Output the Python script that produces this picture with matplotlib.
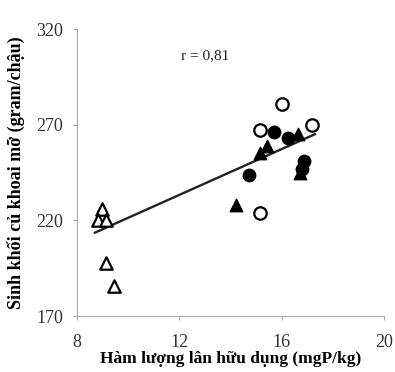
import numpy as np
import matplotlib
matplotlib.use("Agg")
import matplotlib.pyplot as plt

plt.rcParams['font.family'] = ['Liberation Serif', 'DejaVu Serif']

# open triangles
tri_open_x = [8.96, 8.83, 9.13, 9.13, 9.45]
tri_open_y = [226, 220, 220, 198, 186]
# filled triangles
tri_fill_x = [14.2, 15.15, 15.43, 16.64, 16.73]
tri_fill_y = [228, 255, 259, 265, 245]
# open circles
circ_open_x = [15.15, 16.03, 17.17, 15.15]
circ_open_y = [267, 281, 270, 224]
# filled circles
circ_fill_x = [14.72, 15.7, 16.25, 16.88, 16.8]
circ_fill_y = [244, 266, 263, 251, 247]

# regression line
slope = 5.98
intercept = 161.6
line_x = [8.7, 17.3]

fig = plt.figure(figsize=(3.95, 3.72), dpi=100)
ax = fig.add_axes([0.195, 0.150, 0.777, 0.772])

ax.scatter(tri_open_x, tri_open_y, marker='^', s=80, facecolors='white',
           edgecolors='black', linewidths=1.6, zorder=3)
ax.scatter(tri_fill_x, tri_fill_y, marker='^', s=80, color='black', zorder=3)
ax.scatter(circ_open_x, circ_open_y, marker='o', s=80, facecolors='white',
           edgecolors='black', linewidths=1.6, zorder=3)
ax.scatter(circ_fill_x, circ_fill_y, marker='o', s=80, color='black', zorder=3)

lx = np.array(line_x)
ax.plot(lx, slope * lx + intercept, color='#222222', lw=1.7, zorder=2)

ax.text(13, 306, 'r = 0,81', fontsize=11, ha='center', va='center',
        color='#222222')

ax.set_xlim(8, 20)
ax.set_ylim(170, 320)
ax.set_xticks([8, 12, 16, 20])
ax.set_yticks([170, 220, 270, 320])
for s in ['top', 'right']:
    ax.spines[s].set_visible(False)
for s in ['left', 'bottom']:
    ax.spines[s].set_color('#aaaaaa')
ax.tick_params(colors='#aaaaaa', labelcolor='#333333', labelsize=13,
               direction='out', length=3)
ax.tick_params(axis='x', pad=10)
ax.tick_params(axis='y', pad=7)

ax.set_xlabel('Hàm lượng lân hữu dụng (mgP/kg)', fontsize=12.5,
              fontweight='bold')
ax.set_ylabel('Sinh khối củ khoai mỡ (gram/chậu)', fontsize=13,
              fontweight='bold')
ax.xaxis.set_label_coords(0.5, -0.12)
ax.yaxis.set_label_coords(-0.17, 0.5)

fig.savefig('out.png', dpi=100)
